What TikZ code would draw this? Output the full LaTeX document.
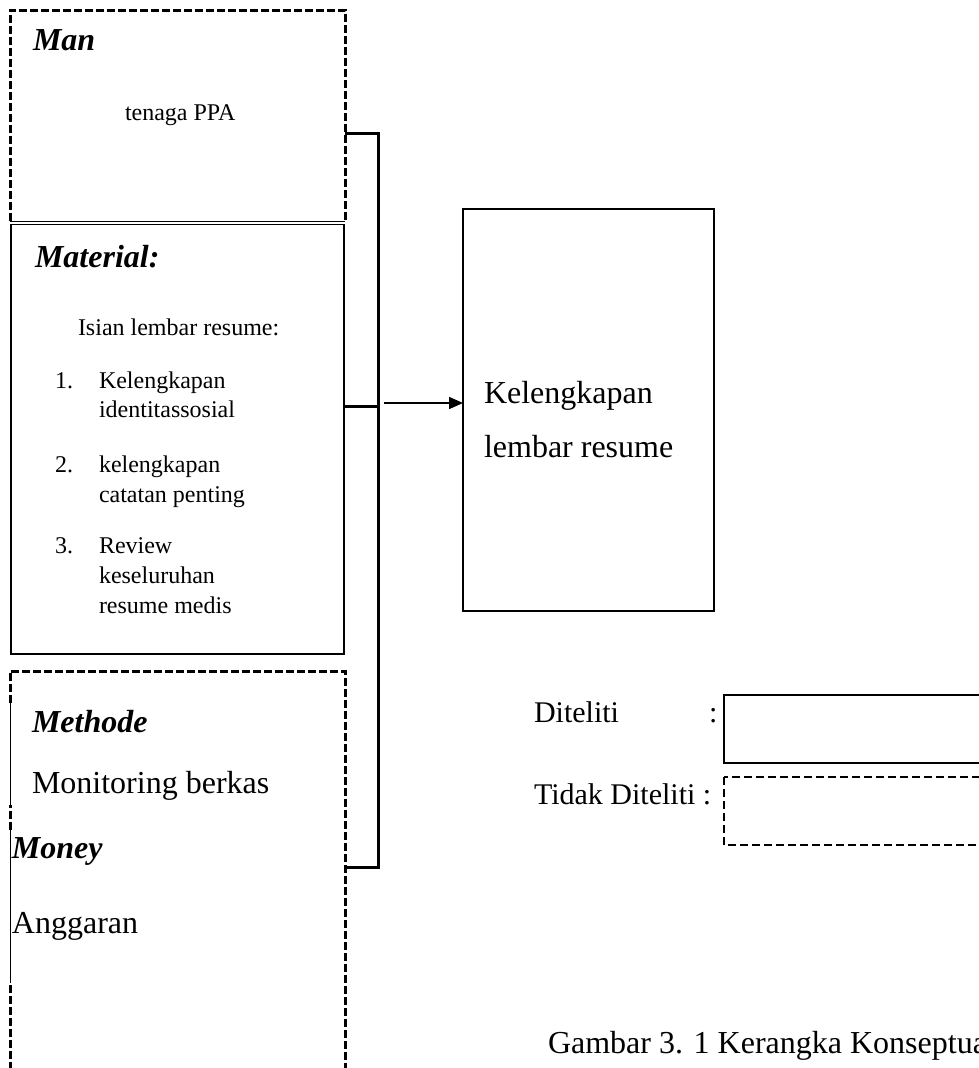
\documentclass[tikz,border=0pt]{standalone}
\usepackage{fontspec}
\setmainfont{Liberation Serif}
\usetikzlibrary{arrows.meta}
\tikzset{
  txt/.style={anchor=base west, inner sep=0pt, outer sep=0pt},
  headtxt/.style={txt, font=\fontsize{32}{38}\selectfont\bfseries\itshape},
  bigtxt/.style={txt, font=\fontsize{32}{38}\selectfont},
  midtxt/.style={txt, font=\fontsize{30}{36}\selectfont},
  smalltxt/.style={txt, font=\fontsize{24}{28}\selectfont},
  frame/.style={draw=none, inner sep=0pt, outer sep=0pt, anchor=north west, rectangle},
  thickdash/.style={line width=3pt, dash pattern=on 8pt off 3pt},
  thindash/.style={line width=2pt, dash pattern=on 8pt off 4pt},
  solidframe/.style={line width=2.5pt},
  thinline/.style={line width=1pt},
  bracketline/.style={line width=3pt},
  arrowline/.style={line width=1.5pt, -{Triangle[length=14pt,width=12pt]}}
}
\begin{document}
\begin{tikzpicture}[x=1pt,y=-1pt]
\useasboundingbox (0,0) rectangle (979,1068);
% frames
\node[frame, minimum width=335pt, minimum height=211pt] (man) at (10,10) {};
\node[frame, minimum width=333pt, minimum height=430pt] (mat) at (11,224) {};
\node[frame, minimum width=335pt, minimum height=410pt] (meth) at (10,671) {};
\node[frame, minimum width=251pt, minimum height=402pt] (res) at (463,209) {};
\node[frame, minimum width=270pt, minimum height=68pt] (dit) at (724,695) {};
\node[frame, minimum width=270pt, minimum height=68pt] (tdit) at (724,777) {};

% Man box
\draw[thickdash] (man.south west) -- (man.north west) -- (man.north east) -- (man.south east);
\draw[thinline] (man.south west) -- (man.south east);
% Material box
\draw[solidframe] (mat.north west) -- (mat.south west) -- (mat.south east) -- (mat.north east);
\draw[thinline] (mat.north west) -- (mat.north east);
% Methode / Money box
\draw[thickdash] (meth.south west) -- (meth.west |- 0,983);
\draw[thickdash] (meth.west |- 0,830) -- (meth.west |- 0,805);
\draw[thickdash] (meth.west |- 0,703) -- (meth.north west) -- (meth.north east) -- (meth.south east);
\draw[thinline] (meth.west |- 0,703) -- (meth.west |- 0,805);
\draw[thinline] (meth.west |- 0,830) -- (meth.west |- 0,983);
% Result box
\draw[solidframe] (res.north west) rectangle (res.south east);
% Legend boxes
\draw[solidframe] (dit.north west) rectangle (dit.south east);
\draw[thindash] (tdit.north west) rectangle (tdit.south east);

% bracket
\coordinate (b1) at (378,133);
\coordinate (b2) at (378,406);
\coordinate (b3) at (378,867);
\coordinate (a0) at (384,403);
\draw[bracketline] (man.east |- b1) -- (b1) -- (b3) -- (meth.east |- b3);
\draw[bracketline] (mat.east |- b2) -- (b2);
\draw[arrowline] (a0) -- (res.west |- a0);

% texts
\node[headtxt] (tman) at (33,50) {Man};
\node[smalltxt] (tppa) at (125,120) {tenaga PPA};
\node[headtxt] (tmat) at (35,267) {Material:};
\node[smalltxt] (tisi) at (78,335) {Isian lembar resume:};
\node[smalltxt] (n1) at (55,388) {1.};
\node[smalltxt] (l1a) at (99,388) {Kelengkapan};
\node[smalltxt] (l1b) at (99,417) {identitassosial};
\node[smalltxt] (n2) at (55,472) {2.};
\node[smalltxt] (l2a) at (99,472) {kelengkapan};
\node[smalltxt] (l2b) at (99,502) {catatan penting};
\node[smalltxt] (n3) at (55,553) {3.};
\node[smalltxt] (l3a) at (99,553) {Review};
\node[smalltxt] (l3b) at (99,583) {keseluruhan};
\node[smalltxt] (l3c) at (99,613) {resume medis};
\node[headtxt] (tmet) at (32,732) {Methode};
\node[bigtxt] (tmon) at (32,793) {Monitoring berkas};
\node[headtxt] (tmoney) at (12,858) {Money};
\node[bigtxt] (tang) at (12,933) {Anggaran};
\node[bigtxt] (tres1) at (484,403) {Kelengkapan};
\node[bigtxt] (tres2) at (484,457) {lembar resume};
\node[midtxt] (tdl) at (534,722) {Diteliti};
\node[midtxt] (tdc) at (709,722) {:};
\node[midtxt] (ttd) at (534,804) {Tidak Diteliti :};
\node[bigtxt] (tcap) at (548,1053) {Gambar 3. 1 Kerangka Konseptual};
\end{tikzpicture}
\end{document}
